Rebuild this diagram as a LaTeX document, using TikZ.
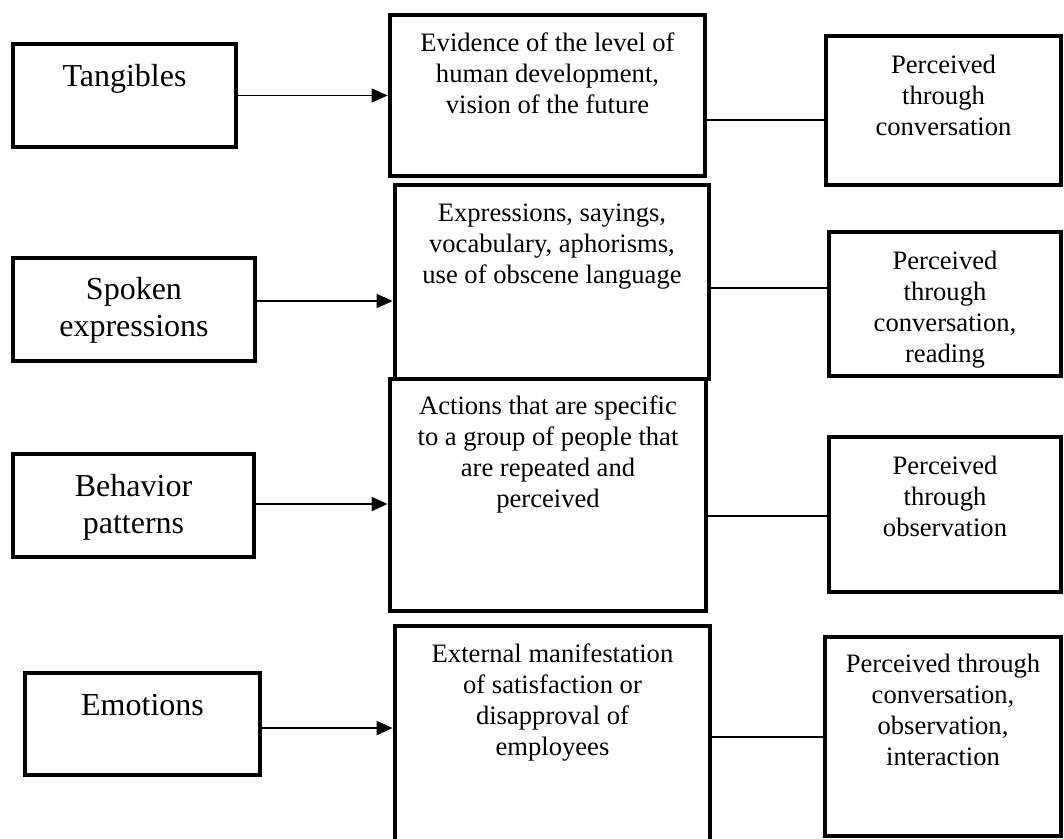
\documentclass[tikz,border=0pt]{standalone}
\usepackage{fontspec}
\setmainfont{Liberation Serif}
\usetikzlibrary{arrows.meta}

\begin{document}
\begin{tikzpicture}[x=0.5pt,y=-0.5pt,
	box/.style={draw=black,line width=2.4pt,inner sep=0pt,rectangle},
	bigtxt/.style={anchor=base,align=center,inner sep=0pt,font=\fontsize{16}{18.5}\selectfont},
	smalltxt/.style={anchor=base,align=center,inner sep=0pt,font=\fontsize{13.3}{15.5}\selectfont},
	arr/.style={-{Triangle[length=8pt,width=7pt]},line width=0.9pt},
	link/.style={line width=0.7pt}]
	\useasboundingbox (0,0) rectangle (1064,839);
	\clip (0,0) rectangle (1064,839);
	
	% left column
	\node (tan) at (124.5,95.5)[box,minimum width=111.5pt,minimum height=51.5pt]{};
	\node (spk) at (134,309.5)[box,minimum width=121pt,minimum height=51.5pt]{};
	\node (beh) at (133.5,505.5)[box,minimum width=120.5pt,minimum height=51.5pt]{};
	\node (emo) at (142.5,724)[box,minimum width=117.5pt,minimum height=51pt]{};
	
	% (base = last line of the text)
	\node (tantxt) at ([yshift=-22.5pt]tan.north)[bigtxt]{Tangibles};
	\node (spktxt) at ([yshift=-40.5pt]spk.north)[bigtxt]{Spoken\\expressions};
	\node (behtxt) at ([yshift=-41pt]beh.north)[bigtxt]{Behavior\\patterns};
	\node (emotxt) at ([yshift=-22.5pt]emo.north)[bigtxt]{Emotions};
	
	% middle column
	\node (evid) at (547.5,95.5)[box,minimum width=157.5pt,minimum height=80.5pt]{};
	\node (expr) at (552,282)[box,minimum width=157pt,minimum height=97pt]{};
	\node (act) at (548,495)[box,minimum width=158pt,minimum height=116pt]{};
	\node (ext) at (552.5,738)[box,minimum width=157.5pt,minimum height=112pt]{};
	
	\node (evidtxt) at ([yshift=-50.5pt]evid.north)[smalltxt]{Evidence of the level of\\human development,\\vision of the future};
	\node (exprtxt) at ([yshift=-50.5pt]expr.north)[smalltxt]{Expressions, sayings,\\vocabulary, aphorisms,\\use of obscene language};
	\node (acttxt) at ([yshift=-65.5pt]act.north)[smalltxt]{Actions that are specific\\to a group of people that\\are repeated and\\perceived};
	\node (exttxt) at ([yshift=-66pt]ext.north)[smalltxt]{External manifestation\\of satisfaction or\\disapproval of\\employees};
	
	% right column
	\node (conv) at (943.5,110.5)[box,minimum width=117.5pt,minimum height=74.5pt]{};
	\node (read) at (945,304)[box,minimum width=116pt,minimum height=72pt]{};
	\node (obs) at (945,514.5)[box,minimum width=116pt,minimum height=77.5pt]{};
	\node (inter) at (943,736.5)[box,minimum width=118pt,minimum height=99.5pt]{};
	
	\node (convtxt) at ([yshift=-51pt]conv.north)[smalltxt]{Perceived\\through\\conversation};
	\node (readtxt) at ([yshift=-66.5pt]read.north)[smalltxt]{Perceived\\through\\conversation,\\reading};
	\node (obstxt) at ([yshift=-51pt]obs.north)[smalltxt]{Perceived\\through\\observation};
	\node (intertxt) at ([yshift=-65.5pt]inter.north)[smalltxt]{Perceived through\\conversation,\\observation,\\interaction};
	
	% arrows into the middle column
	\draw [arr](tan.east)--(evid.west);
	\draw [arr]([yshift=4.25pt]spk.east)--([yshift=4.25pt]spk.east -| expr.west);
	\draw [arr]([yshift=0.75pt]beh.east)--([yshift=0.75pt]beh.east -| act.west);
	\draw [arr]([yshift=-2pt]emo.east)--([yshift=-2pt]emo.east -| ext.west);
	
	% plain links to the right column
	\draw [link]([yshift=-12.25pt]evid.east)--([yshift=-12.25pt]evid.east -| conv.west);
	\draw [link]([yshift=-3pt]expr.east)--([yshift=-3pt]expr.east -| read.west);
	\draw [link]([yshift=-10.5pt]act.east)--([yshift=-10.5pt]act.east -| obs.west);
	\draw [link]([yshift=0.5pt]ext.east)--([yshift=0.5pt]ext.east -| inter.west);
	
\end{tikzpicture}
\end{document}
